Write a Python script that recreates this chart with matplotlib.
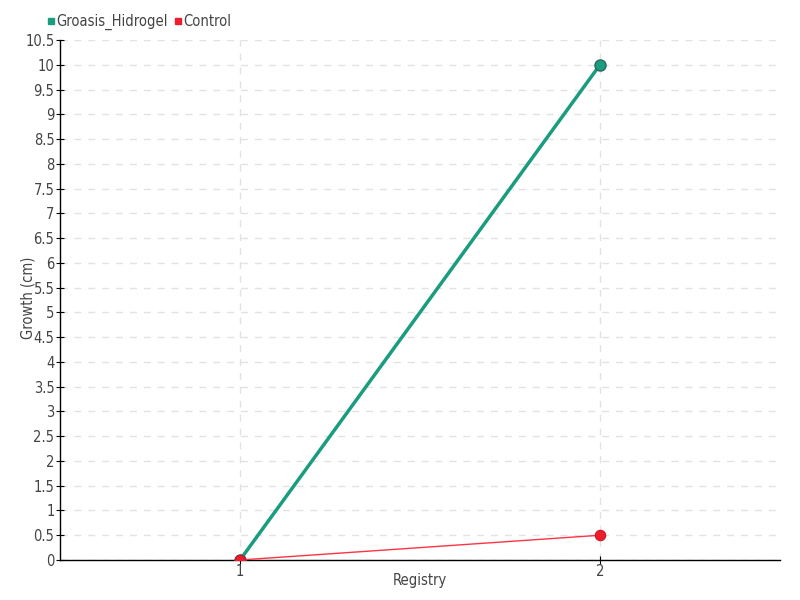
import matplotlib
matplotlib.use("Agg")
import matplotlib.pyplot as plt
from matplotlib.lines import Line2D

registry = [1, 2]
groasis = [0, 10]
control = [0, 0.5]
yticks = [i * 0.5 for i in range(22)]
ytick_labels = [f"{v:g}" for v in yticks]

plt.rcParams['font.family'] = ['DejaVu Sans']
plt.rcParams['font.stretch'] = 'condensed'

fig = plt.figure(figsize=(8, 6), dpi=100)
ax = fig.add_axes([60/800, 40/600, 720/800, 520/600])

ax.plot(registry, groasis, color='#1a9c7f', lw=2.5, marker='o', ms=8,
        markerfacecolor='#1a9c7f', markeredgecolor='#2a6a5a', markeredgewidth=1, zorder=3)
ax.plot(registry, control, color='#ff3344', lw=1, marker='o', ms=7.5,
        markerfacecolor='#ee1c2c', markeredgecolor='#c81a26', markeredgewidth=0.8, zorder=4)

ax.set_xlim(0.5, 2.5)
ax.set_ylim(0, 10.5)
ax.set_xticks(registry)
ax.set_xticklabels([str(r) for r in registry])
ax.set_yticks(yticks)
ax.set_yticklabels(ytick_labels)
ax.grid(True, color='#e2e2e2', linestyle=(0, (5, 5)), lw=1)
ax.set_axisbelow(True)
for s in ['top', 'right']:
    ax.spines[s].set_visible(False)
for s in ['left', 'bottom']:
    ax.spines[s].set_color('black')
    ax.spines[s].set_linewidth(1)
ax.tick_params(axis='both', direction='inout', length=6, colors='black', labelcolor='#444444', labelsize=10.5)
ax.tick_params(axis='y', pad=1)
ax.tick_params(axis='x', pad=0)
ax.set_xlabel('Registry', color='#444444', fontsize=10.5, va='center')
ax.set_ylabel('Growth (cm)', color='#444444', fontsize=10.5, va='center')
ax.xaxis.set_label_coords((420 - 60) / 720, (560 - 580) / 520)
ax.yaxis.set_label_coords((28 - 60) / 720, (560 - 298) / 520)

handles = [Line2D([], [], marker='s', color='none', markerfacecolor='#1a9c7f', markeredgecolor='#1a9c7f', ms=5, label='Groasis_Hidrogel'),
           Line2D([], [], marker='s', color='none', markerfacecolor='#ee1c2c', markeredgecolor='#ee1c2c', ms=5, label='Control')]
fig.legend(handles=handles, loc='upper left', bbox_to_anchor=(34/800, 1 - 1/600), ncol=2, frameon=False,
           fontsize=10.5, handlelength=0.5, handletextpad=0.15, columnspacing=0.4, labelcolor='#444444')

fig.savefig('out.png', dpi=100)
